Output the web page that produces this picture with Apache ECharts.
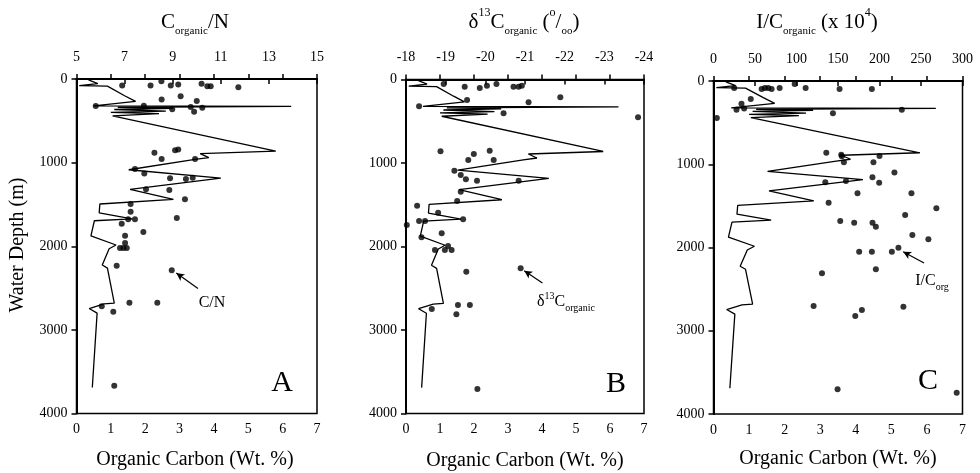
<!DOCTYPE html>
<html><head><meta charset="utf-8">
<script src="https://cdn.jsdelivr.net/npm/echarts@6/dist/echarts.min.js"></script>
<style>html,body{margin:0;padding:0;background:#fff}#c{width:980px;height:473px}</style>
</head><body><div id="c"></div>
<script>
// ---- data ----
const depthTicks = [0, 1000, 2000, 3000, 4000];
const ocTicks = [0, 1, 2, 3, 4, 5, 6, 7];
const cnTicks = [5, 7, 9, 11, 13, 15];
const d13Ticks = [-18, -19, -20, -21, -22, -23, -24];
const icTicks = [0, 50, 100, 150, 200, 250, 300];

// Organic carbon profile (Wt. %) vs water depth (m), in sampling order
const ocValues = [0.35,0.62,0.08,0.9,1.4,1.72,0.5,6.25,1.2,2.8,1.1,2.6,1.0,2.4,1.05,5.8,3.6,3.85,3.45,1.52,4.2,1.56,2.82,0.68,0.66,1.62,0.52,0.42,1.15,0.95,0.75,0.9,1.1,0.8,0.37,0.6,0.46];
const ocDepth  = [10,55,80,86,200,268,322,328,340,352,365,385,400,415,440,862,892,940,962,1085,1185,1320,1440,1495,1600,1672,1695,1875,1985,2030,2225,2262,2680,2690,2745,2800,3690];

// C/N
const cnValues = [6.9,8.08,8.53,8.92,9.23,10.2,10.44,10.58,11.73,8.54,9.33,10.0,5.8,8.98,9.89,9.75,10.23,7.8,8.24,9.1,9.23,8.54,9.93,7.43,7.82,8.89,9.55,9.83,7.89,8.86,9.51,7.25,7.25,7.15,7.43,9.17,6.88,7.78,7.02,6.81,6.95,7.09,7.02,6.67,8.96,6.05,7.2,8.36,6.53,6.57];
const cnDepth  = [77,77,26,77,65,57,86,86,98,244,205,264,324,363,391,336,343,320,883,851,843,958,958,1077,1129,1188,1196,1181,1319,1327,1438,1494,1586,1676,1676,1661,1732,1831,1875,2021,2021,2021,1962,2232,2288,2717,2676,2676,2783,3669];

// delta13C organic (per mil)
const d13Values = [-18.95,-19.48,-19.86,-20.04,-20.28,-20.71,-20.84,-20.92,-21.89,-21.09,-19.54,-18.33,-20.46,-23.85,-18.87,-19.71,-20.11,-19.57,-20.21,-19.22,-19.38,-19.51,-19.79,-20.84,-19.38,-19.29,-18.28,-18.81,-18.33,-18.48,-19.44,-18.02,-18.9,-18.39,-19.06,-18.73,-18.98,-19.15,-19.52,-20.89,-19.31,-19.61,-19.27,-18.65,-19.8];
const d13Depth  = [54,86,102,74,54,86,86,74,213,273,245,321,405,453,860,892,852,964,964,1092,1144,1195,1212,1212,1343,1455,1511,1595,1695,1695,1674,1743,1842,1890,1994,2042,2042,2042,2301,2261,2701,2701,2812,2749,3707];

// I/C organic (x 10^4)
const icValues = [24.9,58,62,66,70,79.7,97.8,111,151.9,190.8,44.9,33.7,36.9,27.7,4,143.9,226.9,135.9,153.9,154.7,200,157.1,192.7,218,134.7,159.6,191.5,199.6,238.5,173.5,138.7,268.5,230.9,152.7,169.5,191.6,195.6,239.6,258.9,222.8,175.5,190.8,214.9,195.6,130.7,120.6,178.8,170.8,228.8,149.5,293];
const icDepth  = [84,96,84,84,96,84,36,84,96,96,216,272,330,346,445,386,345,863,885,905,900,977,977,1100,1217,1201,1157,1221,1349,1349,1461,1529,1609,1682,1702,1702,1750,1850,1901,2002,2050,2050,2050,2262,2310,2703,2751,2823,2711,3704,3744];

// ---- chart ----
const FONT = '"Liberation Serif","Times New Roman",serif';
const pairs = (a, b) => a.map((v, i) => [v, b[i]]);
const plain = v => String(v);
const grids = [
  {left: 76.5, top: 79, width: 240.5, height: 334.5},
  {left: 406, top: 79.5, width: 238, height: 334},
  {left: 713.5, top: 81, width: 249, height: 333}
];
const topDefs = [
  {ticks: cnTicks, inverse: false, interval: 2},
  {ticks: d13Ticks, inverse: true, interval: 1},
  {ticks: icTicks, inverse: false, interval: 50}
];
const lbl = {color: '#000', fontFamily: FONT, fontSize: 14, formatter: plain};
const xAxes = [], yAxes = [], series = [];
grids.forEach((g, i) => {
  xAxes.push({
    gridIndex: i, type: 'value', position: 'bottom',
    min: Math.min(...ocTicks), max: Math.max(...ocTicks), interval: 1,
    axisLine: {lineStyle: {color: '#000', width: 2}},
    axisTick: {inside: true, length: 5, lineStyle: {color: '#000', width: 1.5}},
    axisLabel: Object.assign({margin: 9}, lbl),
    splitLine: {show: false}
  });
  const t = topDefs[i];
  xAxes.push({
    gridIndex: i, type: 'value', position: 'top', inverse: t.inverse,
    min: Math.min(...t.ticks), max: Math.max(...t.ticks), interval: t.interval,
    axisLine: {lineStyle: {color: '#000', width: 2}},
    axisTick: {inside: true, length: 5, lineStyle: {color: '#000', width: 1.5}},
    axisLabel: Object.assign({margin: 15}, lbl),
    splitLine: {show: false}
  });
  yAxes.push({
    gridIndex: i, type: 'value', inverse: true,
    min: depthTicks[0], max: depthTicks[depthTicks.length - 1], interval: 1000,
    axisLine: {lineStyle: {color: '#000', width: 2}},
    axisTick: {inside: false, length: 5, lineStyle: {color: '#000', width: 1.5}},
    axisLabel: Object.assign({margin: 9}, lbl),
    splitLine: {show: false}
  });
  series.push({
    type: 'line', xAxisIndex: 2 * i, yAxisIndex: i,
    data: pairs(ocValues, ocDepth), showSymbol: false, symbol: 'none',
    lineStyle: {color: '#000', width: 1.3}, silent: true, z: 2
  });
});
const arrowLine = (a, b) => ({
  symbol: ['none', 'arrow'], symbolSize: [6, 8], silent: true,
  lineStyle: {color: '#000', width: 1.2, type: 'solid'}, label: {show: false},
  data: [[{coord: a}, {coord: b}]]
});
const dotStyle = {color: '#000'};
series.push({type: 'scatter', xAxisIndex: 1, yAxisIndex: 0, data: pairs(cnValues, cnDepth),
  symbolSize: 6, itemStyle: dotStyle, markLine: arrowLine([10.05, 2506], [9.15, 2320])});
series.push({type: 'scatter', xAxisIndex: 3, yAxisIndex: 1, data: pairs(d13Values, d13Depth),
  symbolSize: 6, itemStyle: dotStyle, markLine: arrowLine([-21.44, 2437], [-20.98, 2290])});
series.push({type: 'scatter', xAxisIndex: 5, yAxisIndex: 2, data: pairs(icValues, icDepth),
  symbolSize: 6, itemStyle: dotStyle, markLine: arrowLine([253.7, 2186], [228.5, 2050])});

const rich = {
  m: {fontFamily: FONT, fontSize: 21, lineHeight: 30, verticalAlign: 'middle', fill: '#000', color: '#000'},
  s: {fontFamily: FONT, fontSize: 11, lineHeight: 12, verticalAlign: 'bottom', fill: '#000', color: '#000'},
  p: {fontFamily: FONT, fontSize: 12, lineHeight: 20, verticalAlign: 'top', fill: '#000', color: '#000'},
  ms: {fontFamily: FONT, fontSize: 16, lineHeight: 22, verticalAlign: 'middle', fill: '#000', color: '#000'},
  ss: {fontFamily: FONT, fontSize: 10, lineHeight: 10, verticalAlign: 'bottom', fill: '#000', color: '#000'},
  ps: {fontFamily: FONT, fontSize: 10, lineHeight: 14, verticalAlign: 'top', fill: '#000', color: '#000'}
};
const txt = (x, y, text, size, extra) => Object.assign({
  type: 'text', x: x, y: y, silent: true,
  style: {text: text, fill: '#000', font: size + 'px ' + FONT, align: 'center', verticalAlign: 'middle', rich: rich}
}, extra || {});
const graphic = [
  txt(195, 22, '{m|C}{s|organic}{m|/N}', 21),
  txt(524, 22, '{m|δ}{p|13}{m|C}{s|organic}{m| (}{p|o}{m|/}{s|oo}{m|)}', 21),
  txt(817, 22, '{m|I/C}{s|organic}{m| (x 10}{p|4}{m|)}', 21),
  txt(195, 460, 'Organic Carbon (Wt. %)', 20),
  txt(525, 461, 'Organic Carbon (Wt. %)', 20),
  txt(838, 459, 'Organic Carbon (Wt. %)', 20),
  txt(18, 245, 'Water Depth (m)', 20, {rotation: Math.PI / 2}),
  txt(282, 383, 'A', 30),
  txt(616, 384, 'B', 30),
  txt(928, 381, 'C', 30),
  txt(212, 303, 'C/N', 16),
  txt(566, 302, '{ms|δ}{ps|13}{ms|C}{ss|organic}', 16),
  txt(932, 281, '{ms|I/C}{ss|org}', 16)
];

const chart = echarts.init(document.getElementById('c'), null, {renderer: 'canvas'});
chart.setOption({
  animation: false,
  backgroundColor: '#fff',
  grid: grids.map(g => Object.assign({show: true, borderColor: '#000', borderWidth: 1.5, backgroundColor: 'transparent'}, g)),
  xAxis: xAxes, yAxis: yAxes, series: series, graphic: graphic
});
</script></body></html>
